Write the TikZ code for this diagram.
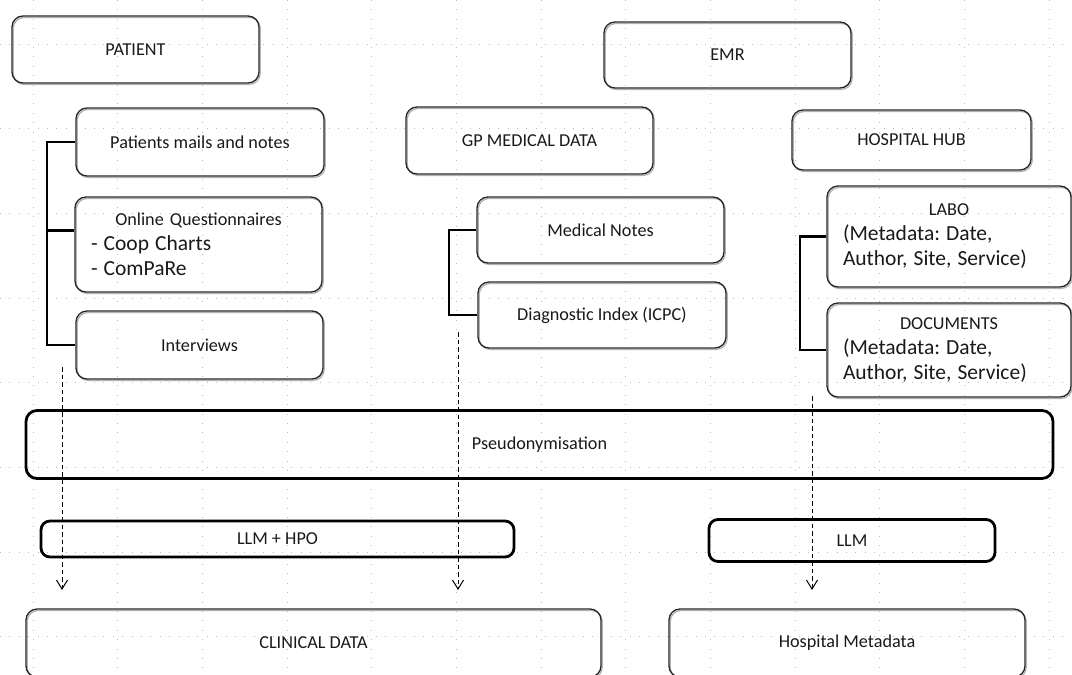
\documentclass[tikz,border=0pt]{standalone}
\usepackage{fontspec}
\setmainfont{Carlito}
\usetikzlibrary{arrows.meta, positioning}

\newcommand{\bigline}{\fontsize{21.5}{25}\selectfont}

\begin{document}
\frenchspacing
\begin{tikzpicture}[
    x=1pt, y=-1pt,
    every node/.style={align=center, font=\fontsize{18.2}{25}\selectfont, text=black!90},
    source/.style={draw=black!85, line width=1.3pt, rounded corners=11pt, inner sep=0pt,
        preaction={draw=black!30, line width=1.3pt, transform canvas={shift={(1.2pt,-1.4pt)}}}},
    stage/.style={draw=black, line width=2.8pt, rounded corners=9pt, inner sep=0pt},
    bracket/.style={line width=2.6pt},
    flow/.style={dash pattern=on 4.5pt off 3pt, line width=1pt, -{Straight Barb[length=9pt, width=11pt]}},
    gridline/.style={gray!55, line width=0.9pt, dash pattern=on 1pt off 8.4pt}
]

    \useasboundingbox (0,0) rectangle (1072,675);
    \clip (0,0) rectangle (1072,675);

    % Dotted background grid
    \foreach \gx in {0,...,12}
        \draw[gridline] ({33+84.67*\gx},0) -- ({33+84.67*\gx},675);
    \foreach \gy in {0,...,7}
        \draw[gridline] (0,{44+84.67*\gy}) -- (1072,{44+84.67*\gy});

    % Top row of sources
    \node[source, minimum width=247pt, minimum height=67pt] (patient) at (135.5, 49.5) {PATIENT};
    \node[source, minimum width=247pt, minimum height=66pt] (emr) at (727.5, 55) {EMR};
    \node[source, minimum width=247pt, minimum height=67pt] (gp) at (529.5, 140.5) {GP MEDICAL DATA};
    \node[source, minimum width=239pt, minimum height=60pt] (hub) at (911.5, 140) {HOSPITAL HUB};

    % Patient data
    \node[source, minimum width=248pt, minimum height=68pt] (mails) at (200, 142) {Patients mails and notes};
    \node[source, minimum width=247pt, minimum height=95pt, text width=215pt, align=left] (quest) at (198.5, 244.5)
        {\makebox[\hsize]{Online Questionnaires}\\ \bigline - Coop Charts\\ - ComPaRe};
    \node[source, minimum width=247pt, minimum height=68pt] (interv) at (199.5, 345) {Interviews};

    % GP data
    \node[source, minimum width=247pt, minimum height=66pt] (mednotes) at (600.5, 230) {Medical Notes};
    \node[source, minimum width=248pt, minimum height=66pt] (diag) at (602, 315) {Diagnostic Index (ICPC)};

    % Hospital data
    \node[source, minimum width=244pt, minimum height=101pt, text width=212pt, align=left] (labo) at (949, 236.5)
        {\makebox[\hsize]{LABO}\\ \bigline (Metadata: Date,\\ Author, Site, Service)};
    \node[source, minimum width=244pt, minimum height=94pt, text width=212pt, align=left] (docs) at (949, 350)
        {\makebox[\hsize]{DOCUMENTS}\\ \bigline (Metadata: Date,\\ Author, Site, Service)};

    % Brackets
    \coordinate (pspine) at (47, 142);
    \coordinate (gspine) at (449, 230);
    \coordinate (hspine) at (800, 236);
    \draw[bracket] (mails.west) -- (mails.west -| pspine) -- (interv.west -| pspine) -- (interv.west);
    \draw[bracket] ([yshift=14pt]quest.west) -- ([yshift=14pt]quest.west -| pspine);
    \draw[bracket] (mednotes.west) -- (mednotes.west -| gspine) -- (diag.west -| gspine) -- (diag.west);
    \draw[bracket] (labo.west) -- (labo.west -| hspine) -- (docs.west -| hspine) -- (docs.west);

    % Processing stages
    \node[stage, rounded corners=11pt, minimum width=1027pt, minimum height=68pt] (pseudo) at (539.5, 444.5) {Pseudonymisation};
    \node[stage, minimum width=473pt, minimum height=36pt] (llmhpo) at (277.5, 539) {LLM + HPO};
    \node[stage, minimum width=286pt, minimum height=42pt] (llm) at (852, 540.5) {LLM};

    % Outputs
    \node[source, minimum width=575pt, minimum height=68pt] (clinical) at (313.5, 643) {CLINICAL DATA};
    \node[source, minimum width=356pt, minimum height=68pt] (hospmeta) at (847, 643) {Hospital Metadata};

    % Dashed flows
    \coordinate (pa) at (62, 367);
    \coordinate (pb) at (62, 590);
    \coordinate (ga) at (458, 332);
    \coordinate (gb) at (458, 590);
    \coordinate (ha) at (812, 396);
    \coordinate (hb) at (812, 590);
    \draw[flow] (pa) -- (pb);
    \draw[flow] (ga) -- (gb);
    \draw[flow] (ha) -- (hb);

\end{tikzpicture}
\end{document}
